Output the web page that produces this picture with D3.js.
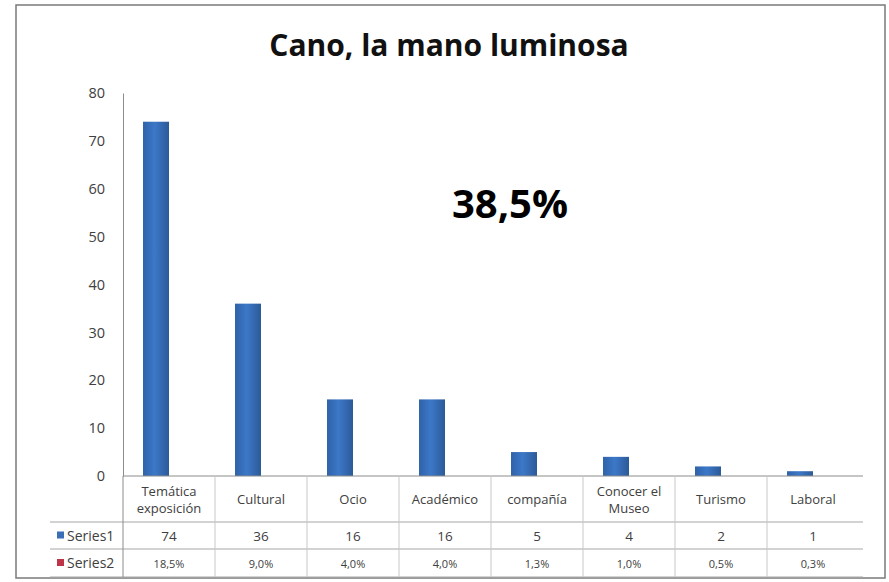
<!DOCTYPE html>
<html>
<head>
<meta charset="utf-8">
<script src="https://cdn.jsdelivr.net/npm/d3@7"></script>
<style>
  body { margin: 0; background: #fff; }
  svg { display: block; }
</style>
</head>
<body>
<div id="chart"></div>
<script>
// chart data
const title = 'Cano, la mano luminosa';
const note = '38,5%';
const categories = [['Temática', 'exposición'], ['Cultural'], ['Ocio'], ['Académico'],
                    ['compañía'], ['Conocer el', 'Museo'], ['Turismo'], ['Laboral']];
const series = ['Series1', 'Series2'];
const series1 = [74, 36, 16, 16, 5, 4, 2, 1];
const series2 = [18.5, 9.0, 4.0, 4.0, 1.3, 1.0, 0.5, 0.3];
const yTicks = [0, 10, 20, 30, 40, 50, 60, 70, 80];
const seriesColors = ['#3a6fb8', '#c0344a'];

const width = 889, height = 582;
const plot = {left: 123, right: 859, top: 93, bottom: 476};
const rowY = [476, 522, 549, 577];
const tableLeft = 50;
const font = "'Open Sans', 'Noto Sans', sans-serif";

const svg = d3.select('#chart')
  .append('svg')
  .attr('width', width)
  .attr('height', height);

// gradient for bars
const grad = svg.append('defs').append('linearGradient')
  .attr('id', 'barGrad').attr('x1', '0').attr('x2', '1');
grad.append('stop').attr('offset', '0%').attr('stop-color', '#2f62a8');
grad.append('stop').attr('offset', '45%').attr('stop-color', '#3c78c8');
grad.append('stop').attr('offset', '100%').attr('stop-color', '#2c5a98');

// frame
svg.append('rect')
  .attr('x', 16).attr('y', 5)
  .attr('width', 869).attr('height', 573)
  .attr('fill', '#fff')
  .attr('stroke', '#7a7a7a')
  .attr('stroke-width', 1.5);

const x = d3.scaleBand()
  .domain(d3.range(categories.length))
  .range([plot.left, plot.right]);

const x1 = d3.scaleBand()
  .domain(series)
  .range([0, x.bandwidth()])
  .paddingOuter(0.77);

const y = d3.scaleLinear()
  .domain([0, 80])
  .range([plot.bottom, plot.top]);

// title
svg.append('text')
  .attr('x', 449).attr('y', 56)
  .attr('text-anchor', 'middle')
  .attr('font-family', font)
  .attr('font-weight', 'bold')
  .attr('font-size', 30)
  .attr('fill', '#111')
  .text(title);

// y axis
const yAxis = svg.append('g')
  .attr('transform', `translate(${plot.left},0)`)
  .call(d3.axisLeft(y).tickValues(yTicks).tickSize(0).tickPadding(18));
yAxis.select('.domain').attr('stroke', '#8c8c8c');
yAxis.selectAll('text')
  .attr('font-family', font)
  .attr('font-size', 14.5)
  .attr('fill', '#404040');

// bars
svg.append('g')
  .selectAll('rect')
  .data(series1)
  .join('rect')
  .attr('x', (d, i) => x(i) + x1('Series1'))
  .attr('y', d => y(d))
  .attr('width', x1.bandwidth())
  .attr('height', d => y(0) - y(d))
  .attr('fill', 'url(#barGrad)');

// big note
svg.append('text')
  .attr('x', 510).attr('y', 218)
  .attr('text-anchor', 'middle')
  .attr('font-family', font)
  .attr('font-weight', 'bold')
  .attr('font-size', 40)
  .attr('fill', '#000')
  .text(note);

// data table
const table = svg.append('g').attr('stroke', '#a6a6a6').attr('stroke-width', 1);
table.append('line')
  .attr('x1', plot.left).attr('x2', plot.right + 4)
  .attr('y1', rowY[0]).attr('y2', rowY[0])
  .attr('stroke', '#8c8c8c');
rowY.slice(1).forEach(yy => {
  table.append('line')
    .attr('x1', tableLeft).attr('x2', plot.right + 4)
    .attr('y1', yy).attr('y2', yy);
});
d3.range(categories.length).forEach(i => {
  table.append('line')
    .attr('x1', x(i)).attr('x2', x(i))
    .attr('y1', rowY[0]).attr('y2', rowY[3])
    .attr('stroke', i === 0 ? '#8c8c8c' : '#c8c8c8');
});

// category labels, one text per line
const catText = svg.append('g')
  .attr('font-family', font)
  .attr('font-size', 13)
  .attr('fill', '#404040')
  .attr('text-anchor', 'middle');
categories.forEach((lines, i) => {
  const cx = x(i) + x.bandwidth() / 2;
  const mid = (rowY[0] + rowY[1]) / 2;
  lines.forEach((ln, j) => {
    catText.append('text')
      .attr('x', cx)
      .attr('y', mid + 5 + (j - (lines.length - 1) / 2) * 17)
      .text(ln);
  });
});

// value rows
const fmtPct = v => v.toFixed(1).replace('.', ',') + '%';
const rows = [
  {name: series[0], vals: series1.map(String), size: 13.5},
  {name: series[1], vals: series2.map(fmtPct), size: 11}
];
rows.forEach((r, k) => {
  const mid = (rowY[k + 1] + rowY[k + 2]) / 2;
  svg.append('rect')
    .attr('x', 57).attr('y', mid - 4)
    .attr('width', 7).attr('height', 7)
    .attr('fill', seriesColors[k]);
  svg.append('text')
    .attr('x', 67).attr('y', mid + 5)
    .attr('font-family', font)
    .attr('font-size', 14)
    .attr('fill', '#404040')
    .text(r.name);
  svg.append('g')
    .selectAll('text')
    .data(r.vals)
    .join('text')
    .attr('x', (d, i) => x(i) + x.bandwidth() / 2)
    .attr('y', mid + 5)
    .attr('text-anchor', 'middle')
    .attr('font-family', font)
    .attr('font-size', r.size)
    .attr('fill', '#404040')
    .text(d => d);
});
</script>
</body>
</html>
